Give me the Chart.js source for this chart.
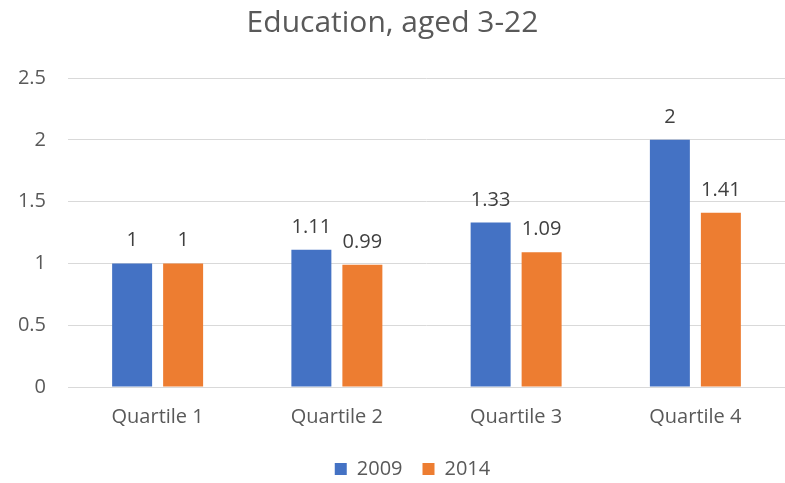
<!DOCTYPE html>
<html lang="en">
<head>
    <meta charset="UTF-8">
    <title>Education, aged 3-22</title>
    <style>
        html, body { margin: 0; padding: 0; background: #ffffff; }
        #wrap { width: 785px; height: 483px; }
    </style>
</head>
<body>
    <div id="wrap"><canvas id="chart" width="785" height="483"></canvas></div>

    <script src="https://cdn.jsdelivr.net/npm/chart.js"></script>
    <script>
        // chart data
        const categories = ['Quartile 1', 'Quartile 2', 'Quartile 3', 'Quartile 4'];
        const values2009 = [1, 1.11, 1.33, 2];
        const values2014 = [1, 0.99, 1.09, 1.41];
        const yTicks = [0, 0.5, 1, 1.5, 2, 2.5];

        const textColor = '#595959';
        const fontFamily = '"Open Sans", "Noto Sans", sans-serif';

        // draws the value above each bar
        const barLabels = {
            id: 'barLabels',
            afterDatasetsDraw(chart) {
                const ctx = chart.ctx;
                ctx.save();
                ctx.font = '20px ' + fontFamily;
                ctx.fillStyle = '#404040';
                ctx.textAlign = 'center';
                ctx.textBaseline = 'alphabetic';
                chart.data.datasets.forEach((ds, i) => {
                    chart.getDatasetMeta(i).data.forEach((bar, j) => {
                        ctx.fillText(String(ds.data[j]), bar.x, bar.y - 17);
                    });
                });
                ctx.restore();
            }
        };

        // nudges the legend to the right, like the original
        const legendShift = {
            id: 'legendShift',
            afterLayout(chart) {
                if (chart.legend) {
                    chart.legend.left += 20;
                    chart.legend.right += 20;
                }
            }
        };

        new Chart(document.getElementById('chart'), {
            type: 'bar',
            data: {
                labels: categories,
                datasets: [
                    { label: '2009', data: values2009, backgroundColor: '#4472C4' },
                    { label: '2014', data: values2014, backgroundColor: '#ED7D31' }
                ]
            },
            options: {
                responsive: false,
                animation: false,
                categoryPercentage: 0.569,
                barPercentage: 0.784,
                layout: { padding: { left: 0, right: 0, top: 5, bottom: -6 } },
                plugins: {
                    title: {
                        display: true,
                        text: 'Education, aged 3-22',
                        color: textColor,
                        font: { size: 30, family: fontFamily, weight: 'normal' },
                        padding: { top: 0, bottom: 37 }
                    },
                    legend: {
                        position: 'bottom',
                        labels: {
                            color: textColor,
                            font: { size: 20, family: fontFamily },
                            boxWidth: 12,
                            boxHeight: 12,
                            padding: 20
                        }
                    },
                    tooltip: { enabled: false }
                },
                scales: {
                    x: {
                        grid: { display: false },
                        border: { color: '#D9D9D9', width: 1 },
                        ticks: {
                            color: textColor,
                            font: { size: 20, family: fontFamily },
                            padding: 10
                        }
                    },
                    y: {
                        min: 0,
                        max: 2.5,
                        afterBuildTicks(scale) {
                            scale.ticks = yTicks.map(v => ({ value: v }));
                        },
                        afterFit(scale) { scale.width = 68; },
                        grid: { color: '#D9D9D9', drawTicks: false },
                        border: { display: false },
                        ticks: {
                            color: textColor,
                            font: { size: 20, family: fontFamily },
                            padding: 22,
                            callback: v => String(v)
                        }
                    }
                }
            },
            plugins: [barLabels, legendShift]
        });
    </script>
</body>
</html>
